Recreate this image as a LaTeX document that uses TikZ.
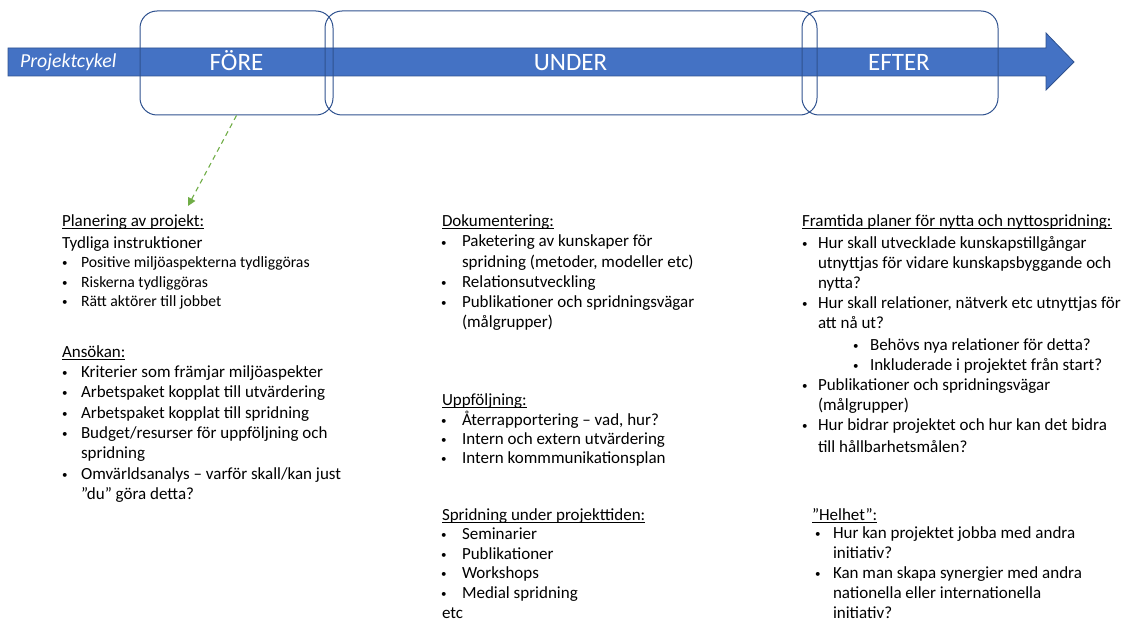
\documentclass[tikz,border=0pt]{standalone}
\usepackage{fontspec}
\setmainfont{Carlito}
\usetikzlibrary{arrows.meta}
\definecolor{arrowblue}{HTML}{4472C4}
\definecolor{edgeblue}{HTML}{2F528F}
\definecolor{leafgreen}{HTML}{70AD47}
\newcommand\bigtxt{\fontsize{17}{20}\selectfont}
\newcommand\smalltxt{\fontsize{15.7}{19}\selectfont}
\newcommand\dotmark{\raisebox{0.9pt}{\fontsize{11}{11}\selectfont\textbullet}}
\tikzset{
  txt/.style={anchor=base west, inner sep=0pt, outer sep=0pt, font=\bigtxt, text=black},
  txtsmall/.style={txt, font=\smalltxt},
  uline/.style={line width=0.8pt, black},
  phase/.style={draw=edgeblue, line width=1pt, rounded corners=17pt, inner sep=0pt},
  phaselabel/.style={anchor=base, inner sep=0pt, text=white, font=\fontsize{25}{28}\selectfont},
  cyclelabel/.style={anchor=base west, inner sep=0pt, text=white, font=\fontsize{19.8}{22}\selectfont\itshape},
  bigarrow/.style={fill=arrowblue, draw=edgeblue, line width=0.8pt},
  linkarrow/.style={draw=leafgreen, line width=1.1pt, dash pattern=on 5pt off 4pt,
     -{Triangle[length=8pt,width=8pt,fill=leafgreen]}}
}
\newcommand\TL[4]{\node[txt] (#1) at (#2,#3) {#4};}
\newcommand\HD[4]{\node[txt] (#1) at (#2,#3) {#4};
  \draw[uline] ([yshift=-2.5pt]#1.base west) -- ([yshift=-2.5pt]#1.base east);}
\newcommand\BL[5]{\node[txt] (#1b) at (#2,#4) {\dotmark};
  \node[txt] (#1) at (#3,#4) {#5};}
\newcommand\BS[5]{\node[txtsmall] (#1b) at (#2,#4) {\dotmark};
  \node[txtsmall] (#1) at (#3,#4) {#5};}
\begin{document}
\begin{tikzpicture}[x=1pt,y=-1pt]
\useasboundingbox (0,0) rectangle (1128,623);
% main arrow
\draw[bigarrow] (8,48) -- (1046,48) -- (1046,33) -- (1074,62) -- (1046,90) -- (1046,76) -- (8,76) -- cycle;
\node[cyclelabel] (cycle) at (20,68) {Projektcykel};
% phases
\node[phase, minimum width=193pt, minimum height=104pt] (fore) at (236.5,63) {};
\node[phase, minimum width=492pt, minimum height=104pt] (under) at (571,63) {};
\node[phase, minimum width=196pt, minimum height=104pt] (efter) at (900,63) {};
\node[phaselabel] (forelbl) at (236.5,71) {FÖRE};
\node[phaselabel] (underlbl) at (570.5,71) {UNDER};
\node[phaselabel] (efterlbl) at (899,71) {EFTER};
% link
\coordinate (tip) at (188,206);
\draw[linkarrow] (fore.south) -- (tip);
% left column
\HD{plan}{62}{226}{Planering av projekt:}
\TL{tyd}{62}{248}{Tydliga instruktioner}
\BS{pa}{62}{81}{267}{Positive miljöaspekterna tydliggöras}
\BS{pb}{62}{81}{287}{Riskerna tydliggöras}
\BS{pc}{62}{81}{306}{Rätt aktörer till jobbet}
\HD{ans}{62}{357}{Ansökan:}
\BL{aa}{62}{81}{377}{Kriterier som främjar miljöaspekter}
\BL{ab}{62}{81}{397.5}{Arbetspaket kopplat till utvärdering}
\BL{ac}{62}{81}{418}{Arbetspaket kopplat till spridning}
\BL{ad}{62}{81}{438}{Budget/resurser för uppföljning och}
\TL{ad2}{81}{458}{spridning}
\BL{ae}{62}{81}{479}{Omvärldsanalys – varför skall/kan just}
\TL{ae2}{81}{499.5}{”du” göra detta?}
% middle column
\HD{dok}{442}{226}{Dokumentering:}
\BL{da}{441}{462}{247}{Paketering av kunskaper för}
\TL{da2}{462}{267}{spridning (metoder, modeller etc)}
\BL{db}{441}{462}{287}{Relationsutveckling}
\BL{dc}{441}{462}{307}{Publikationer och spridningsvägar}
\TL{dc2}{462}{327}{(målgrupper)}
\HD{upp}{442}{405}{Uppföljning:}
\BL{ua}{441}{462}{425}{Återrapportering – vad, hur?}
\BL{ub}{441}{462}{444}{Intern och extern utvärdering}
\BL{uc}{441}{462}{463}{Intern kommmunikationsplan}
\HD{spr}{442}{520}{Spridning under projekttiden:}
\BL{sa}{441}{462}{539}{Seminarier}
\BL{sb}{441}{462}{559}{Publikationer}
\BL{sc}{441}{462}{578}{Workshops}
\BL{sd}{441}{462}{598}{Medial spridning}
\TL{se}{442}{618}{etc}
% right column
\HD{fram}{802}{226}{Framtida planer för nytta och nyttospridning:}
\BL{fa}{802}{818}{248}{Hur skall utvecklade kunskapstillgångar}
\TL{fa2}{818}{268}{utnyttjas för vidare kunskapsbyggande och}
\TL{fa3}{818}{288}{nytta?}
\BL{fb}{802}{818}{308}{Hur skall relationer, nätverk etc utnyttjas för}
\TL{fb2}{818}{328}{att nå ut?}
\BL{fba}{853}{870}{350}{Behövs nya relationer för detta?}
\BL{fbb}{853}{870}{370}{Inkluderade i projektet från start?}
\BL{fc}{802}{818}{390}{Publikationer och spridningsvägar}
\TL{fc2}{818}{410}{(målgrupper)}
\BL{fd}{802}{818}{430}{Hur bidrar projektet och hur kan det bidra}
\TL{fd2}{818}{452}{till hållbarhetsmålen?}
\HD{hel}{812}{520}{”Helhet”:}
\BL{ha}{815}{833}{538}{Hur kan projektet jobba med andra}
\TL{ha2}{833}{558}{initiativ?}
\BL{hb}{815}{833}{578}{Kan man skapa synergier med andra}
\TL{hb2}{833}{598}{nationella eller internationella}
\TL{hb3}{833}{618}{initiativ?}
\end{tikzpicture}
\end{document}
